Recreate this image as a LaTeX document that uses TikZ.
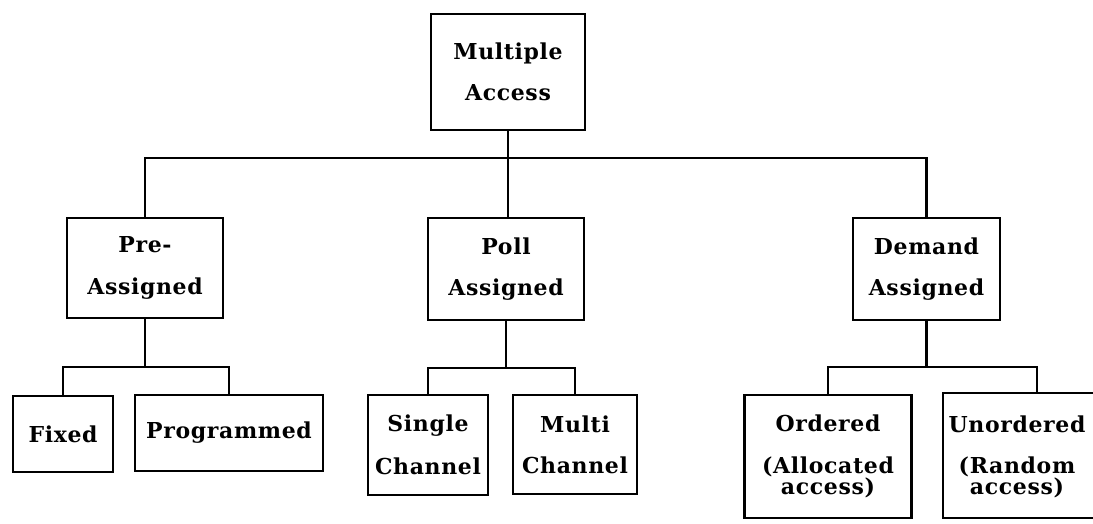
\documentclass[tikz,border=0pt]{standalone}
\usepackage{fontspec}
\newfontfamily\boxfont[LetterSpace=3]{DejaVu Serif}
\usepackage{tikz}
\usetikzlibrary{calc}

\begin{document}
\begin{tikzpicture}[
        x=0.02cm, y=-0.02cm,
        box/.style={rectangle, draw, line width=1.6pt, inner sep=0pt, outer sep=0pt, align=center,
            font=\boxfont\bfseries\fontsize{12.5}{12}\selectfont},
        wire/.style={line width=1.5pt}
    ]
        \useasboundingbox (0,0) rectangle (1093,524);

        % Root
        \node[box, minimum width=3.08cm, minimum height=2.32cm] (ma) at (508,72) {Multiple\\[11.5pt]Access};

        % Second level
        \node[box, minimum width=3.12cm, minimum height=2.0cm] (pre) at (145,268) {Pre-\\[11.5pt]Assigned};
        \node[box, minimum width=3.12cm, minimum height=2.04cm] (poll) at (506,269) {Poll\\[11.5pt]Assigned};
        \node[box, minimum width=2.94cm, minimum height=2.04cm] (dem) at (926.5,269) {Demand\\[11.5pt]Assigned};

        % Third level
        \node[box, minimum width=2.0cm, minimum height=1.52cm] (fixed) at (63,434) {Fixed};
        \node[box, minimum width=3.76cm, minimum height=1.52cm] (prog) at (229,433) {Programmed};
        \node[box, minimum width=2.4cm, minimum height=2.0cm] (single) at (428,445) {Single\\[11.5pt]Channel};
        \node[box, minimum width=2.48cm, minimum height=1.98cm] (multi) at (575,444.5) {Multi\\[11.5pt]Channel};
        \node[box, minimum width=3.34cm, minimum height=2.46cm] (ord) at (828,456.5) {Ordered\\[11.5pt](Allocated\\access)};
        % right side runs off the page
        \node[box, minimum width=3.94cm, minimum height=2.5cm] (unord) at (1041.5,455.5) {};
        \node[box, draw=none] (unordtxt) at (1017,457) {Unordered\\[11.5pt](Random\\access)};

        % Bus under root
        \draw[wire] (ma.south) -- (ma.south |- poll.north);
        \draw[wire] (pre.north) -- ++(0,-60) -| (dem.north);

        % Sub-buses
        \draw[wire] (pre.south) -- ++(0,49) coordinate (prebus);
        \draw[wire] (fixed.north) |- (prebus) -| (prog.north);
        \draw[wire] (poll.south) -- ++(0,48) coordinate (pollbus);
        \draw[wire] (single.north) |- (pollbus) -| (multi.north);
        \draw[wire] (dem.south) -- ++(0,47) coordinate (dembus);
        \draw[wire] (ord.north) |- (dembus) -| ($(unord.north west)+(94,0)$);
    \end{tikzpicture}
\end{document}
